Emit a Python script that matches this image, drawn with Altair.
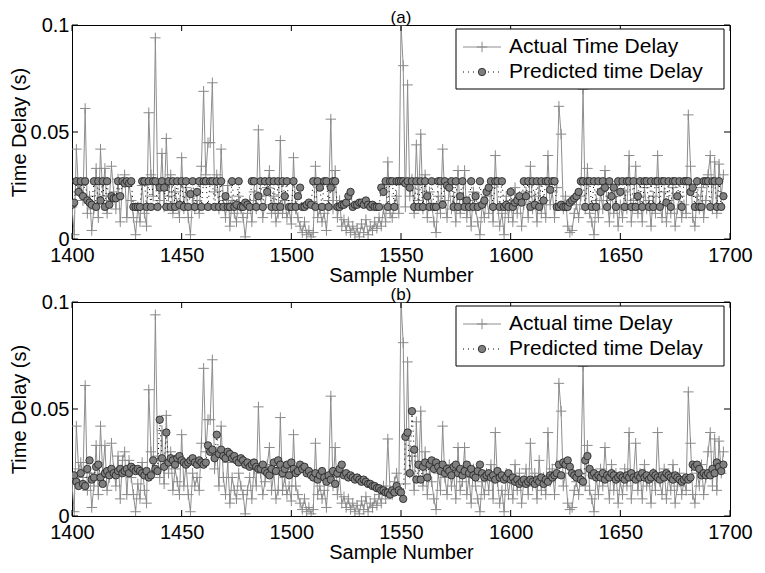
import altair as alt
import pandas as pd

start = 1400

# Actual time delay (ms), one value per sample from 1400
actual_ms = [
    15, 2, 42, 22, 25, 18, 61, 12, 20, 4,
    14, 33, 10, 42, 20, 33, 12, 18, 34, 22,
    14, 28, 8, 26, 30, 10, 26, 18, 10, 2,
    15, 8, 25, 12, 6, 59, 30, 20, 94, 28,
    18, 40, 15, 47, 20, 30, 12, 22, 16, 10,
    38, 14, 24, 10, 2, 20, 14, 18, 12, 34,
    69, 30, 45, 45, 73, 22, 30, 14, 42, 18,
    10, 25, 6, 18, 12, 8, 20, 14, 10, 1,
    12, 18, 8, 22, 14, 51, 20, 10, 16, 24,
    32, 12, 20, 8, 12, 46, 12, 18, 10, 14,
    7, 38, 14, 10, 6, 3, 8, 2, 4, 1,
    3, 34, 10, 14, 8, 12, 4, 18, 56, 14,
    32, 10, 18, 6, 9, 4, 8, 3, 6, 2,
    5, 1, 7, 3, 9, 2, 6, 4, 8, 5,
    10, 6, 14, 8, 36, 12, 10, 16, 20, 12,
    100, 81, 15, 72, 20, 28, 12, 44, 18, 49,
    14, 30, 10, 22, 16, 8, 3, 20, 12, 42,
    18, 10, 24, 14, 20, 8, 32, 12, 16, 32,
    10, 18, 6, 22, 14, 8, 2, 16, 10, 20,
    12, 24, 8, 39, 16, 6, 12, 2, 20, 10,
    18, 8, 24, 12, 20, 6, 16, 22, 10, 34,
    14, 20, 8, 26, 12, 18, 10, 39, 16, 22,
    10, 24, 62, 49, 14, 20, 6, 3, 4, 12,
    16, 10, 20, 70, 14, 33, 12, 8, 2, 18,
    10, 22, 14, 32, 18, 8, 24, 12, 20, 6,
    16, 10, 22, 14, 39, 8, 18, 34, 12, 20,
    8, 24, 14, 18, 6, 20, 12, 39, 16, 10,
    22, 8, 18, 12, 24, 6, 14, 20, 10, 16,
    12, 58, 34, 10, 6, 20, 14, 24, 10, 18,
    30, 39, 14, 36, 12, 35, 20, 30,
]

# Predicted time delay, panel (a) (ms)
pred_a_ms = [
    16, 17, 27, 22, 27, 20, 27, 18, 17, 16,
    27, 15, 27, 18, 27, 15, 27, 16, 20, 19,
    19, 27, 20, 27, 26, 27, 26, 27, 15, 15,
    15, 15, 27, 27, 15, 27, 15, 27, 27, 15,
    24, 27, 24, 15, 27, 15, 27, 15, 27, 16,
    27, 15, 27, 15, 21, 27, 15, 22, 27, 15,
    27, 27, 15, 27, 27, 15, 27, 15, 27, 15,
    20, 15, 15, 27, 15, 16, 27, 15, 15, 17,
    16, 15, 27, 27, 15, 20, 27, 15, 27, 22,
    27, 15, 27, 15, 27, 15, 27, 20, 27, 15,
    15, 27, 15, 20, 24, 15, 15, 16, 17, 16,
    27, 15, 27, 24, 15, 27, 27, 15, 24, 27,
    27, 15, 15, 16, 16, 17, 20, 22, 15, 16,
    16, 17, 17, 16, 18, 16, 15, 16, 15, 15,
    15, 24, 22, 27, 15, 27, 27, 15, 27, 27,
    27, 27, 26, 27, 24, 27, 15, 27, 15, 27,
    15, 27, 20, 15, 27, 15, 15, 27, 27, 16,
    27, 25, 24, 27, 15, 27, 15, 20, 27, 15,
    18, 15, 27, 15, 20, 15, 27, 16, 18, 22,
    24, 27, 15, 27, 27, 15, 27, 15, 16, 15,
    22, 15, 17, 18, 20, 17, 27, 20, 27, 15,
    27, 16, 27, 15, 27, 18, 27, 27, 23, 27,
    27, 15, 15, 16, 15, 15, 15, 17, 18, 19,
    20, 22, 27, 27, 15, 27, 27, 15, 27, 15,
    27, 22, 27, 24, 15, 27, 20, 24, 15, 27,
    22, 27, 15, 27, 27, 15, 27, 15, 20, 27,
    15, 27, 27, 15, 27, 15, 27, 27, 15, 27,
    27, 17, 27, 15, 27, 27, 20, 27, 15, 27,
    27, 27, 22, 24, 15, 27, 15, 15, 27, 27,
    27, 15, 27, 27, 15, 27, 15, 20,
]

# Predicted time delay, panel (b) (ms)
pred_b_ms = [
    18, 19, 16, 14, 20, 15, 14, 22, 26, 17,
    18, 23, 24, 18, 15, 20, 21, 19, 22, 20,
    19, 21, 22, 20, 21, 22, 20, 23, 22, 21,
    22, 21, 20, 19, 21, 18, 19, 26, 22, 21,
    45, 27, 23, 39, 25, 27, 26, 24, 27, 28,
    26, 25, 24, 25, 26, 27, 25, 24, 26, 25,
    24, 25, 33, 30, 31, 27, 38, 29, 31, 28,
    27, 30, 29, 27, 28, 26, 25, 27, 26, 24,
    25, 23, 24, 25, 23, 22, 22, 24, 21, 20,
    19, 22, 25, 21, 26, 24, 20, 22, 24, 19,
    25, 22, 20, 21, 24, 22, 23, 20, 21, 19,
    18, 20, 17, 19, 21, 18, 16, 19, 17, 21,
    15, 20, 22, 24, 19, 20, 18, 19, 18, 17,
    18, 17, 16, 17, 16, 15, 15, 14, 14, 13,
    13, 12, 12, 11, 11, 10, 12, 11, 14, 12,
    11, 8, 37, 39, 20, 49, 31, 17, 24, 17,
    23, 25, 18, 24, 26, 22, 25, 23, 21, 24,
    20, 22, 21, 19, 23, 24, 20, 22, 19, 21,
    24, 20, 22, 19, 18, 21, 24, 20, 18, 19,
    20, 18, 19, 17, 21, 18, 19, 17, 18, 20,
    17, 18, 16, 17, 15, 16, 17, 15, 16, 17,
    16, 15, 17, 16, 18, 15, 17, 16, 19, 18,
    19, 20, 24, 19, 25, 24, 26, 23, 20, 19,
    18, 20, 17, 16, 26, 28, 22, 19, 20, 18,
    19, 18, 20, 17, 19, 18, 20, 19, 17, 18,
    19, 18, 17, 19, 18, 20, 18, 17, 19, 18,
    20, 18, 19, 17, 18, 20, 19, 18, 17, 19,
    18, 20, 19, 18, 17, 19, 18, 17, 16, 17,
    18, 17, 18, 24, 23, 24, 22, 19, 20, 19,
    20, 19, 22, 20, 25, 23, 21, 24,
]

x_ticks = [1400, 1450, 1500, 1550, 1600, 1650, 1700]
y_ticks = [0, 0.05, 0.1]

panel_titles = ["(a)", "(b)"]
legend_a = ["Actual Time Delay", "Predicted time Delay"]
legend_b = ["Actual time Delay", "Predicted time Delay"]

W, H = 658, 214
FONT = "Liberation Sans"
AX_FS = 20
LEG_FS = 21
GRAY_LINE = "#8e8e8e"
PLUS = "M-1,0L1,0M0,-1L0,1"


def frame(vals):
    return pd.DataFrame({
        "sample": [start + i for i in range(len(vals))],
        "delay": [v / 1000.0 for v in vals],
    })


df_act = frame(actual_ms)
xs = alt.Scale(domain=[1400, 1700], nice=False, zero=False)
ys = alt.Scale(domain=[0, 0.1], nice=False, zero=False)
x_axis = alt.Axis(values=x_ticks, format="d", title="Sample Number",
                  labelPadding=6, titlePadding=0)
y_axis = alt.Axis(values=y_ticks, format="~g", title="Time Delay (s)",
                  labelPadding=3, titlePadding=1)


def X(field):
    return alt.X(field, type="quantitative", scale=xs, axis=x_axis)


def Y(field):
    return alt.Y(field, type="quantitative", scale=ys, axis=y_axis)


# legend geometry, in pixels from the plot's top-left corner
LX0, LX1 = W - 274, W - 6
LY0, LY1 = 4, 64
SYM0, SYM1 = LX0 + 7, LX0 + 45
TXT = LX0 + 53
ROW1, ROW2 = 22, 47


def panel(pred_vals, title, labels):
    act = alt.Chart(df_act)
    act_line = act.mark_line(color=GRAY_LINE, strokeWidth=1, clip=True).encode(
        x=X("sample"), y=Y("delay"))
    act_pts = act.mark_point(shape=PLUS, size=110, color="#8a8a8a", strokeWidth=1,
                             filled=False, opacity=1, clip=True).encode(
        x=X("sample"), y=Y("delay"))
    pred = alt.Chart(frame(pred_vals))
    pred_line = pred.mark_line(color="black", strokeWidth=1, strokeDash=[1, 4], clip=True).encode(
        x=X("sample"), y=Y("delay"))
    pred_pts = pred.mark_circle(size=55, fill="#7f7f7f", stroke="#1e1e1e", strokeWidth=0.8,
                                opacity=1, clip=True).encode(
        x=X("sample"), y=Y("delay"))

    tdx = alt.Chart(pd.DataFrame({"t": x_ticks}))
    tdy = alt.Chart(pd.DataFrame({"t": y_ticks}))
    xt_b = tdx.mark_rule(color="black", strokeWidth=1).encode(
        x=X("t"), y=alt.value(H), y2=alt.value(H - 6))
    xt_t = tdx.mark_rule(color="black", strokeWidth=1).encode(
        x=X("t"), y=alt.value(0), y2=alt.value(6))
    yt_l = tdy.mark_rule(color="black", strokeWidth=1).encode(
        y=Y("t"), x=alt.value(0), x2=alt.value(6))
    yt_r = tdy.mark_rule(color="black", strokeWidth=1).encode(
        y=Y("t"), x=alt.value(W), x2=alt.value(W - 6))

    one = alt.Chart(pd.DataFrame({"k": [0]}))
    ttl = one.mark_text(text=title, align="center", baseline="alphabetic", fontSize=17,
                        font=FONT, color="black").encode(
        x=alt.value(W / 2), y=alt.value(-2))
    box = one.mark_rect(fill="white", stroke="black", strokeWidth=1).encode(
        x=alt.value(LX0), x2=alt.value(LX1), y=alt.value(LY0), y2=alt.value(LY1))
    l1 = one.mark_rule(color=GRAY_LINE, strokeWidth=1).encode(
        x=alt.value(SYM0), x2=alt.value(SYM1), y=alt.value(ROW1))
    m1 = one.mark_point(shape=PLUS, size=110, color="#8a8a8a", strokeWidth=1,
                        filled=False, opacity=1).encode(
        x=alt.value((SYM0 + SYM1) / 2), y=alt.value(ROW1))
    t1 = one.mark_text(text=labels[0], align="left", baseline="middle", fontSize=LEG_FS,
                       font=FONT, color="black").encode(x=alt.value(TXT), y=alt.value(ROW1))
    l2 = one.mark_rule(color="black", strokeWidth=1, strokeDash=[1, 4]).encode(
        x=alt.value(SYM0), x2=alt.value(SYM1), y=alt.value(ROW2))
    m2 = one.mark_circle(size=55, fill="#7f7f7f", stroke="#1e1e1e", strokeWidth=0.8,
                         opacity=1).encode(x=alt.value((SYM0 + SYM1) / 2), y=alt.value(ROW2))
    t2 = one.mark_text(text=labels[1], align="left", baseline="middle", fontSize=LEG_FS,
                       font=FONT, color="black").encode(x=alt.value(TXT), y=alt.value(ROW2))

    return alt.layer(act_line, act_pts, pred_line, pred_pts,
                     xt_b, xt_t, yt_l, yt_r,
                     box, l1, m1, t1, l2, m2, t2, ttl).properties(width=W, height=H)


pa = panel(pred_a_ms, panel_titles[0], legend_a)
pb = panel(pred_b_ms, panel_titles[1], legend_b)

chart = alt.VConcatChart(vconcat=[pa, pb], spacing=63, bounds="flush").properties(
    padding={"left": 0, "top": 0, "right": 0, "bottom": 0}
).configure_view(
    stroke="black", strokeWidth=1
).configure_axis(
    labelFont=FONT, titleFont=FONT, labelFontSize=AX_FS, titleFontSize=AX_FS,
    labelColor="black", titleColor="black", titleFontWeight="normal",
    ticks=False, tickSize=0, domain=False, grid=False,
    labelFlush=False, labelOverlap=False
)

chart.save("out.html", embed_options={"renderer": "svg", "actions": False})
